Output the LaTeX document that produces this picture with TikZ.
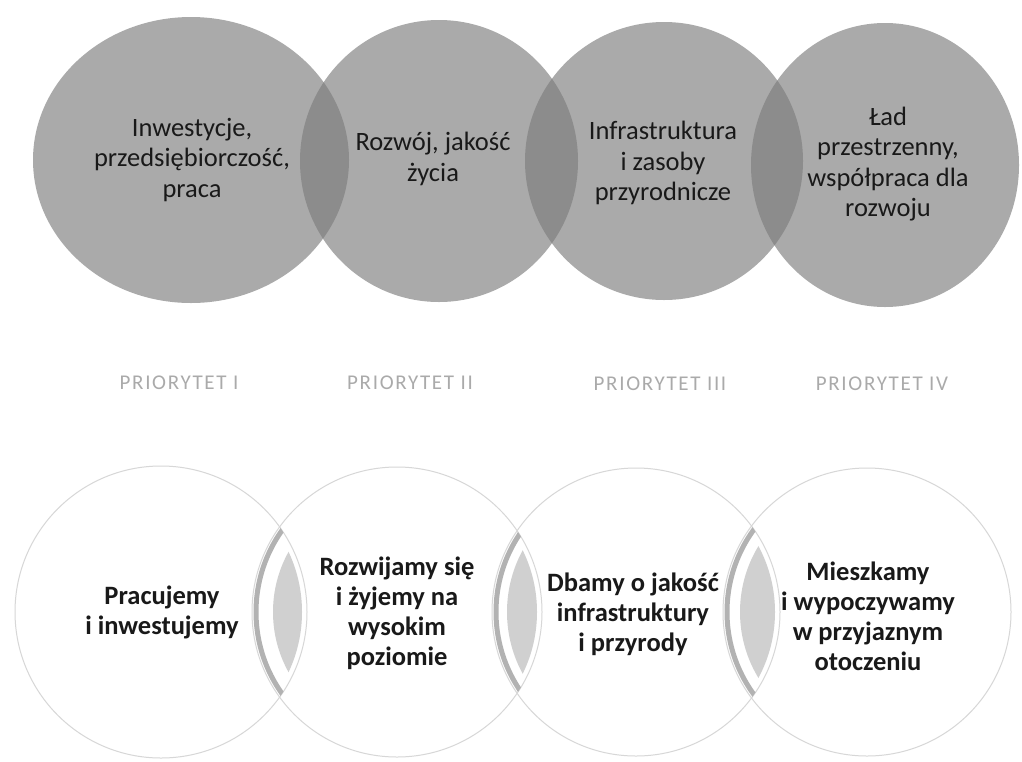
\documentclass[tikz,border=0pt]{standalone}
\usepackage{fontspec}
\setmainfont{Carlito}
\definecolor{topfill}{RGB}{170,170,170}
\definecolor{toplens}{RGB}{140,140,140}
\definecolor{toptext}{RGB}{25,25,25}
\definecolor{priotext}{RGB}{170,170,170}
\definecolor{botedge}{RGB}{215,215,215}
\definecolor{botband}{RGB}{178,178,178}
\definecolor{botlens}{RGB}{208,208,208}
\tikzset{
  toplabel/.style={align=center, text=toptext, inner sep=0pt,
    font=\fontsize{26.5}{30.5}\selectfont},
  botlabel/.style={align=center, text=toptext, inner sep=0pt,
    font=\fontsize{26.5}{30}\selectfont\bfseries},
  priolabel/.style={text=priotext, inner sep=0pt,
    font=\fontsize{21}{25}\selectfont\addfontfeatures{LetterSpace=8}},
}
\newcommand{\tA}{(191,160) ellipse [x radius=158pt, y radius=143pt]}
\newcommand{\tB}{(439,161) ellipse [x radius=139pt, y radius=141pt]}
\newcommand{\tC}{(664,161) ellipse [x radius=139pt, y radius=139pt]}
\newcommand{\tD}{(885,165) ellipse [x radius=134pt, y radius=142pt]}
\begin{document}
\begin{tikzpicture}[x=1pt,y=-1pt]
\useasboundingbox (0,0) rectangle (1022,761);
\fill[white] (0,0) rectangle (1022,761);
% ---------- top row ----------
\fill[topfill] \tA;
\fill[topfill] \tB;
\fill[topfill] \tC;
\fill[topfill] \tD;
\begin{scope}\clip \tA; \fill[toplens] \tB; \end{scope}
\begin{scope}\clip \tB; \fill[toplens] \tC; \end{scope}
\begin{scope}\clip \tC; \fill[toplens] \tD; \end{scope}
\node[toplabel] (t1) at (192,160) {Inwestycje,\\przedsiębiorczość,\\praca};
\node[toplabel] (t2) at (433,159) {Rozwój, jakość\\życia};
\node[toplabel] (t3) at (663,163) {Infrastruktura\\i zasoby\\przyrodnicze};
\node[toplabel] (t4) at (888,164) {Ład\\przestrzenny,\\współpraca dla\\rozwoju};
% ---------- labels ----------
\node[priolabel] (p1) at (179,383) {PRIORYTET I};
\node[priolabel] (p2) at (410,383) {PRIORYTET II};
\node[priolabel] (p3) at (660,384) {PRIORYTET III};
\node[priolabel] (p4) at (882,384) {PRIORYTET IV};
% ---------- bottom row ----------
\foreach \cx/\r in {161/146, 397/145, 636/144, 867/144}
  \draw[botedge, line width=1pt] (\cx,612) circle [radius=\r pt];
% pairs: left centre / left radius / right centre / right radius / inner radii
\foreach \ax/\ar/\bx/\br/\ia/\ib in {161/146/397/145/141/124, 397/145/636/144/140/129, 636/144/867/144/139/127}{
  \begin{scope}
    \clip (\ax,612) circle [radius=\ar pt];
    \draw[botband, line width=5pt] (\bx,612) circle [radius=\br pt - 4pt];
  \end{scope}
  \begin{scope}
    \clip (\ax,612) circle [radius=\ia pt];
    \fill[botlens] (\bx,612) circle [radius=\ib pt];
  \end{scope}
}
\node[botlabel] (b1) at (162,612) {Pracujemy\\i inwestujemy};
\node[botlabel] (b2) at (397,613) {Rozwijamy się\\i żyjemy na\\wysokim\\poziomie};
\node[botlabel] (b3) at (633,614) {Dbamy o jakość\\infrastruktury\\i przyrody};
\node[botlabel] (b4) at (868,616) {Mieszkamy\\i wypoczywamy\\w przyjaznym\\otoczeniu};
\end{tikzpicture}
\end{document}
